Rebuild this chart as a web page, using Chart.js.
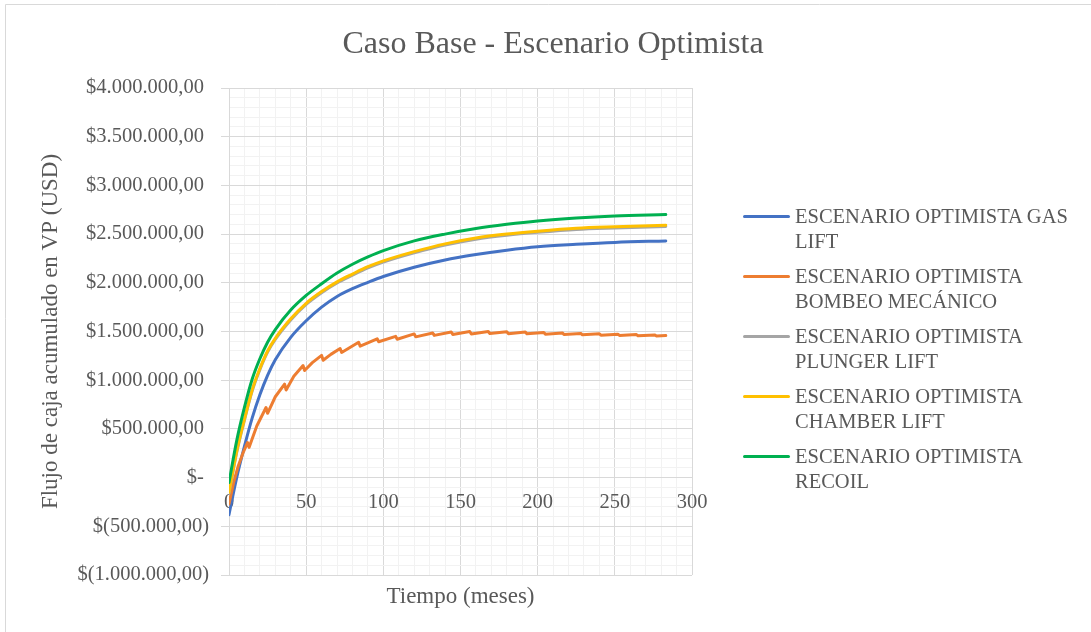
<!DOCTYPE html>
<html>
<head>
<meta charset="utf-8">
<script src="https://cdn.jsdelivr.net/npm/chart.js@4"></script>
<style>
  html,body{margin:0;padding:0;background:#fff;}
  #wrap{position:relative;width:1091px;height:632px;overflow:hidden;}
  #ch{position:absolute;left:0;top:0;}
  #leyenda{position:absolute;left:743px;top:204px;width:348px;
    font-family:'Liberation Serif','Times New Roman',serif;font-size:20.5px;line-height:25px;color:#595959;}
  .item{position:relative;padding-left:52px;margin-bottom:10px;}
  .item span.linea{position:absolute;left:0;top:11px;width:47px;height:3px;border-radius:1.5px;}
</style>
</head>
<body>
<div id="wrap">
  <canvas id="ch" width="1091" height="632"></canvas>
  <div id="leyenda"></div>
</div>
<script>
// ===================== DATOS =====================
const meses      = [0,5,10,15,20,25,30,40,50,60,70,80,90,100,120,140,160,180,200,225,250,283];
const gasLift    = [-380000,0,320000,610000,850000,1050000,1210000,1440000,1610000,1750000,1860000,1940000,2005000,2065000,2160000,2235000,2290000,2335000,2370000,2395000,2415000,2430000];
const plunger    = [-162000,258000,588000,888000,1108000,1288000,1418000,1618000,1778000,1898000,1998000,2078000,2153000,2213000,2308000,2388000,2448000,2488000,2518000,2548000,2563000,2578000];
const chamber    = [-150000,270000,600000,900000,1120000,1300000,1430000,1630000,1790000,1910000,2010000,2090000,2165000,2225000,2320000,2400000,2460000,2500000,2530000,2560000,2575000,2590000];
const recoil     = [-50000,380000,720000,1010000,1220000,1390000,1520000,1720000,1870000,1990000,2100000,2190000,2265000,2330000,2430000,2500000,2557000,2600000,2635000,2665000,2685000,2700000];
// bombeo mecánico: diente de sierra anual
const mesesBombeo = [0,3,6,9,12,13,18,24,25,30,36,37,42,48,49,54,60,61,66,72,73,84,85,96,97,108,109,120,121,132,133,144,145,156,157,168,169,180,181,192,193,204,205,216,217,228,229,240,241,252,253,264,265,276,277,283];
const bombeo      = [-270000,-50000,120000,250000,360000,310000,530000,720000,660000,830000,960000,900000,1040000,1150000,1100000,1180000,1255000,1205000,1265000,1325000,1285000,1390000,1350000,1425000,1395000,1450000,1420000,1475000,1445000,1485000,1460000,1495000,1470000,1500000,1475000,1500000,1480000,1497000,1478000,1494000,1476000,1490000,1473000,1485000,1470000,1480000,1466000,1476000,1462000,1472000,1460000,1468000,1456000,1464000,1454000,1458000];

const nombres = ['ESCENARIO OPTIMISTA GAS LIFT','ESCENARIO OPTIMISTA BOMBEO MECÁNICO','ESCENARIO OPTIMISTA PLUNGER LIFT','ESCENARIO OPTIMISTA CHAMBER LIFT','ESCENARIO OPTIMISTA RECOIL'];
const colores = ['#4472C4','#ED7D31','#A5A5A5','#FFC000','#00B050'];
const titulo  = 'Caso Base - Escenario Optimista';

const FUENTE="'Liberation Serif','Times New Roman',serif";
const GRIS='#595959';

function pares(xs,ys){ return xs.map((x,i)=>({x,y:ys[i]})); }
function miles(n){ return Math.round(n).toString().replace(/\B(?=(\d{3})+(?!\d))/g,'.'); }
function fmtUSD(v){
  if(Math.abs(v)<1) return '$- ';
  if(v<0) return '$('+miles(-v)+',00)';
  return '$'+miles(v)+',00 ';
}
const esMayorY=v=>Math.round(v/100000)%5===0;
const esMayorX=v=>Math.round(v/10)%5===0;

const series=[gasLift,bombeo,plunger,chamber,recoil];
const datasets=series.map((s,i)=>({
  label:nombres[i],
  data:pares(i===1?mesesBombeo:meses,s),
  borderColor:colores[i],backgroundColor:colores[i],
  borderWidth:3,pointRadius:0,borderCapStyle:'round',borderJoinStyle:'round',
  cubicInterpolationMode:i===1?'default':'monotone',tension:i===1?0:0.4,
  order:5-i
}));

// marco y título centrado en todo el lienzo (no sólo en el área del gráfico)
const marco={id:'marco',
  beforeDraw(c){
    const g=c.ctx;g.save();g.fillStyle='#fff';g.fillRect(0,0,c.width,c.height);
    g.strokeStyle='#d9d9d9';g.lineWidth=1;g.beginPath();
    g.moveTo(5.5,c.height);g.lineTo(5.5,4.5);g.lineTo(c.width,4.5);g.stroke();g.restore();
  },
  afterDraw(c){
    const g=c.ctx;g.save();g.fillStyle=GRIS;g.font='32px '+FUENTE;
    g.textAlign='center';g.textBaseline='middle';g.fillText(titulo,553,45);g.restore();
  }
};

const chart=new Chart(document.getElementById('ch'),{
  type:'line',
  data:{datasets},
  plugins:[marco],
  options:{
    responsive:false,animation:false,
    layout:{padding:{left:0,right:399,top:88,bottom:0}},
    plugins:{legend:{display:false},tooltip:{enabled:false}},
    scales:{
      x:{type:'linear',position:{y:0},min:0,max:300,
        ticks:{stepSize:10,autoSkip:false,maxRotation:0,color:GRIS,padding:7,
          font:{family:FUENTE,size:20.5},callback:v=>esMayorX(v)?v:''},
        grid:{color:c=>esMayorX(c.tick.value)?'#d9d9d9':'#f2f2f2',
          tickColor:c=>esMayorX(c.tick.value)?'#d9d9d9':'rgba(0,0,0,0)',tickLength:6},
        border:{color:'#d9d9d9'}},
      x2:{type:'linear',position:'bottom',min:0,max:300,
        ticks:{display:false},grid:{display:false},border:{display:false},
        title:{display:true,text:'Tiempo (meses)',color:GRIS,
          font:{family:FUENTE,size:23},padding:{top:0,bottom:21}},
        afterFit:s=>{s.height=57;}},
      y:{type:'linear',min:-1000000,max:4000000,
        ticks:{stepSize:100000,autoSkip:false,color:GRIS,padding:12,
          font:{family:FUENTE,size:20.5},callback:v=>esMayorY(v)?fmtUSD(v):''},
        grid:{color:c=>esMayorY(c.tick.value)?'#d9d9d9':'#f2f2f2',
          tickColor:c=>esMayorY(c.tick.value)?'#d9d9d9':'rgba(0,0,0,0)',tickLength:8},
        border:{color:'#d9d9d9'},
        title:{display:true,text:'Flujo de caja acumulado en VP (USD)',color:GRIS,
          font:{family:FUENTE,size:23},padding:{top:37,bottom:0}},
        afterFit:s=>{s.width=229;}}
    }
  }
});

// leyenda en dos líneas, como en el original
const ley=document.getElementById('leyenda');
chart.data.datasets.forEach(d=>{
  const it=document.createElement('div');it.className='item';
  it.innerHTML='<span class="linea" style="background:'+d.borderColor+'"></span>'+d.label;
  ley.appendChild(it);
});
</script>
</body>
</html>
